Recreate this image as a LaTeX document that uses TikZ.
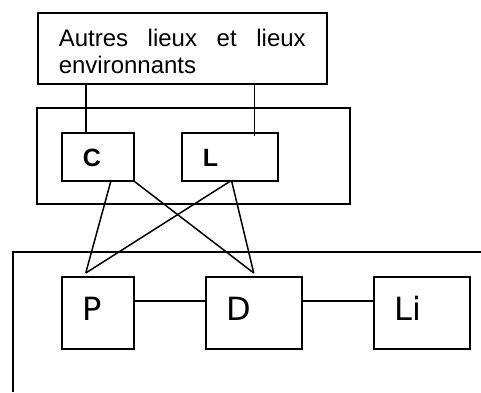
\documentclass[tikz,border=0pt]{standalone}
\usepackage{fontspec}
\setmainfont{Liberation Sans}
\newfontfamily\lieuxfont{DejaVu Sans}
\usepackage{tikz}
\hyphenpenalty=10000
\tolerance=10000
\tikzset{
  cadre/.style={line width=1.5pt},
  boite/.style={draw,line width=1.5pt,anchor=north west,inner xsep=21pt,inner ysep=0pt},
  boiteenv/.style={boite,align=justify,text width=247pt,minimum width=289pt,minimum height=71pt,text height=16.5pt,text depth=19.5pt,font=\fontsize{24}{26.6}\selectfont},
  boitehaut/.style={boite,align=left,text width=#1-42pt,minimum width=#1,minimum height=48pt,text height=20pt,text depth=0pt,font=\fontsize{25}{28}\selectfont\bfseries},
  boitebas/.style={boite,align=left,text width=#1-42pt,minimum width=#1,minimum height=72pt,text height=25pt,text depth=9pt,font=\lieuxfont\fontsize{32}{36}\selectfont}
}
\begin{document}
\begin{tikzpicture}[x=1pt,y=-1pt]
    \useasboundingbox (0,0) rectangle (481,392);
    \node[boiteenv] (autres) at (37,12) {Autres lieux et lieux environnants};
    \draw[cadre] (37,108) rectangle (350,204);
    \node[boitehaut=72pt] (C) at (61,132) {C};
    \node[boitehaut=96pt] (L) at (181,132) {L};
    \draw[cadre] (13,392) |- (481,252);
    \node[boitebas=72pt] (P) at (61,276) {P};
    \node[boitebas=96pt] (D) at (205,276) {D};
    \node[boitebas=96pt] (Li) at (373,276) {Li};
    \coordinate (cc) at ([xshift=25pt]C.north west);
    \coordinate (lc) at ([xshift=-24pt,yshift=-4pt]L.north east);
    \draw[cadre] (cc) -- (cc |- autres.south);
    \draw[cadre] (lc) -- (lc |- autres.south);
    \coordinate (pt) at ([xshift=-12pt,yshift=3pt]P.north);
    \coordinate (dt) at ([yshift=3pt]D.north);
    \draw[cadre] ([xshift=13pt]C.south) -- (pt);
    \draw[cadre] (C.south east) -- (dt);
    \draw[cadre] (L.south) -- (pt);
    \draw[cadre] ([xshift=2pt]L.south) -- (dt);
    \draw[cadre] ([yshift=12pt]P.east) -- ([yshift=12pt]D.west);
    \draw[cadre] ([yshift=12pt]D.east) -- ([yshift=12pt]Li.west);
\end{tikzpicture}
\end{document}
